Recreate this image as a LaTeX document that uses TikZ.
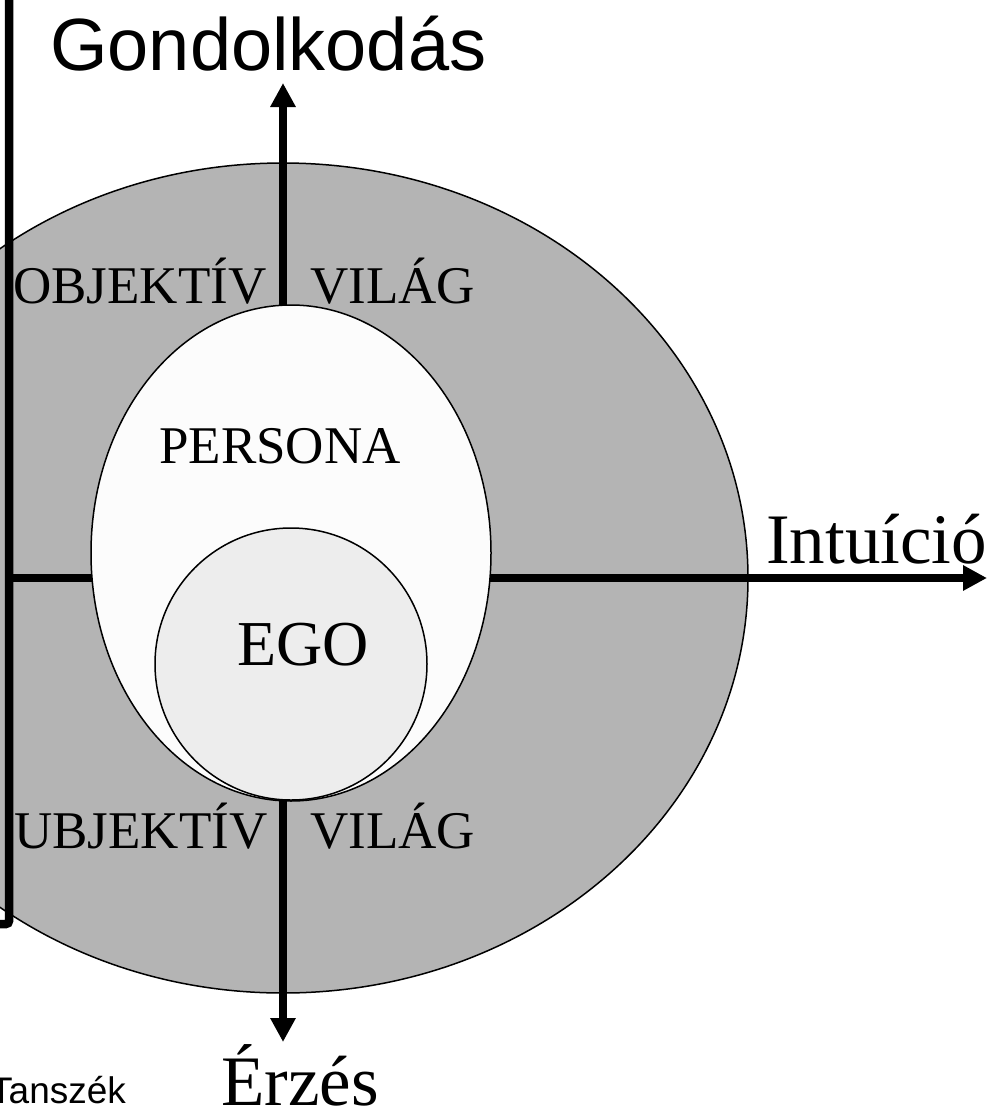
\documentclass[tikz,border=0pt]{standalone}
\usepackage{fontspec}
\setmainfont{Liberation Serif}
\newfontfamily\arialfont{Liberation Sans}
\usetikzlibrary{arrows.meta}
\definecolor{ringgray}{RGB}{180,180,180}
\definecolor{personafill}{RGB}{252,252,252}
\definecolor{egofill}{RGB}{237,237,237}
\tikzset{
  axisline/.style={line width=8pt,-{Triangle[width=24pt,length=24pt]}},
  frameline/.style={line width=8.5pt,rounded corners=3pt},
  shapeborder/.style={draw=black,line width=1.5pt},
  lbl/.style={inner sep=0pt,anchor=base west},
}
\begin{document}
\begin{tikzpicture}[x=1pt,y=-1pt]
\useasboundingbox (0,0) rectangle (999,1111);
\clip (0,0) rectangle (999,1111);
\fill[white] (0,0) rectangle (999,1111);
% coordinates
\coordinate (O) at (283,578);
\coordinate (top) at (283,83);
\coordinate (bottom) at (283,1042);
\coordinate (left) at (9,578);
\coordinate (right) at (987,578);
\coordinate (pc) at (291,553);
\coordinate (ec) at (291,664);
% outer ring
\draw[shapeborder,fill=ringgray] (O) ellipse [x radius=465, y radius=415];
% axes
\draw[axisline] (O) -- (top);
\draw[axisline] (O) -- (bottom);
\draw[axisline] (left) -- (right);
% persona and ego
\draw[shapeborder,fill=personafill] (pc) ellipse [x radius=200, y radius=248];
\draw[shapeborder,fill=egofill] (ec) circle [radius=136];
% labels
\node[lbl,font=\arialfont\fontsize{74}{80}\selectfont] (gond) at (50,70) {Gondolkodás};
\node[lbl,font=\fontsize{71}{76}\selectfont] (intu) at (766,563) {Intuíció};
\node[lbl,font=\fontsize{71}{76}\selectfont] (erz) at (221,1105) {Érzés};
\node[lbl,font=\fontsize{53}{58}\selectfont] (obj) at (13,303) {OBJEKTÍV};
\node[lbl,font=\fontsize{53}{58}\selectfont] (vil1) at (310,303) {VILÁG};
\node[lbl,font=\fontsize{53}{58}\selectfont] (subj) at (14,848) {UBJEKTÍV};
\node[lbl,font=\fontsize{53}{58}\selectfont] (vil2) at (310,848) {VILÁG};
\node[lbl,font=\fontsize{53}{58}\selectfont] (pers) at (159,463) {PERSONA};
\node[lbl,font=\fontsize{64}{70}\selectfont] (ego) at (237,665) {EGO};
\node[lbl,font=\arialfont\fontsize{37}{40}\selectfont] (tansz) at (-10,1103) {Tanszék};
% frame line on the left
\draw[frameline] (9,-10) -- (9,924) -- (-10,924);
\end{tikzpicture}
\end{document}
